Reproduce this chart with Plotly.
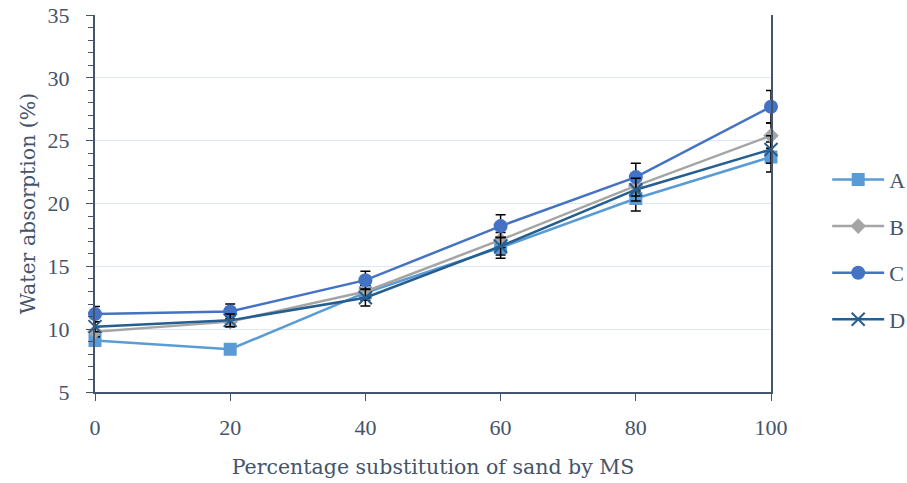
import plotly.graph_objects as go

x_vals = [0, 20, 40, 60, 80, 100]
series_names = ["A", "B", "C", "D"]
A_vals = [9.1, 8.4, 12.9, 16.5, 20.4, 23.7]
B_vals = [9.8, 10.6, 13.0, 17.1, 21.4, 25.4]
C_vals = [11.2, 11.4, 13.9, 18.2, 22.1, 27.7]
D_vals = [10.2, 10.7, 12.5, 16.6, 21.1, 24.3]
A_err = [0.4, 0.3, 0.6, 0.85, 1.0, 1.2]
B_err = [0.4, 0.4, 0.5, 0.6, 0.8, 1.0]
C_err = [0.6, 0.6, 0.7, 0.9, 1.1, 1.3]
D_err = [0.4, 0.5, 0.65, 0.7, 0.9, 1.1]

text_color = "#44546a"
title_font = "DejaVu Serif, serif"
tick_font = "Liberation Serif, serif"

styles = {
    "A": dict(color="#5b9bd5", symbol="square", size=13),
    "B": dict(color="#a5a5a5", symbol="diamond", size=12),
    "C": dict(color="#4472c4", symbol="circle", size=14),
    "D": dict(color="#255e91", symbol="x-thin-open", size=13),
}
values = {"A": A_vals, "B": B_vals, "C": C_vals, "D": D_vals}
errs = {"A": A_err, "B": B_err, "C": C_err, "D": D_err}

fig = go.Figure()
for name in series_names:
    st = styles[name]
    marker = dict(color=st["color"], symbol=st["symbol"], size=st["size"])
    if name == "D":
        marker["line"] = dict(color=st["color"], width=2)
    fig.add_trace(go.Scatter(
        x=x_vals, y=values[name], name=name, mode="lines+markers",
        line=dict(color=st["color"], width=2.5),
        marker=marker,
        error_y=dict(type="data", array=errs[name], visible=True,
                     color="black", thickness=1.5, width=5),
        cliponaxis=False, legendgroup=name,
    ))

fig.update_layout(
    width=907, height=483,
    margin=dict(l=95, r=136, t=15, b=91),
    plot_bgcolor="white", paper_bgcolor="white",
    font=dict(family=tick_font, size=22, color=text_color),
    showlegend=True,
    legend=dict(xref="container", yref="container", x=0.912, y=0.483,
                xanchor="left", yanchor="middle",
                font=dict(family=tick_font, size=22, color=text_color),
                itemwidth=52, tracegroupgap=15, bgcolor="rgba(0,0,0,0)"),
    xaxis=dict(
        range=[0, 100], tickvals=x_vals, ticks="outside", ticklen=7,
        tickcolor=text_color, showline=True, linecolor=text_color, linewidth=2,
        showgrid=False, zeroline=False, ticklabelstandoff=8, automargin=False,
        title=dict(text="Percentage substitution of sand by MS", standoff=20,
                   font=dict(family=title_font, size=20.5, color=text_color)),
        tickfont=dict(family=tick_font, size=22, color=text_color),
    ),
    yaxis=dict(
        range=[5, 35], dtick=5, ticks="outside", ticklen=7,
        tickcolor=text_color, showline=True, linecolor=text_color, linewidth=2,
        mirror=True, ticklabelstandoff=12, automargin=False,
        showgrid=True, gridcolor="#dde8f4", gridwidth=1, zeroline=False,
        minor=dict(dtick=1, ticks="outside", ticklen=5, tickcolor=text_color,
                   showgrid=False),
        title=dict(text="Water absorption (%)", standoff=6,
                   font=dict(family=title_font, size=20.5, color=text_color)),
        tickfont=dict(family=tick_font, size=22, color=text_color),
    ),
)

fig.write_html("out.html")
